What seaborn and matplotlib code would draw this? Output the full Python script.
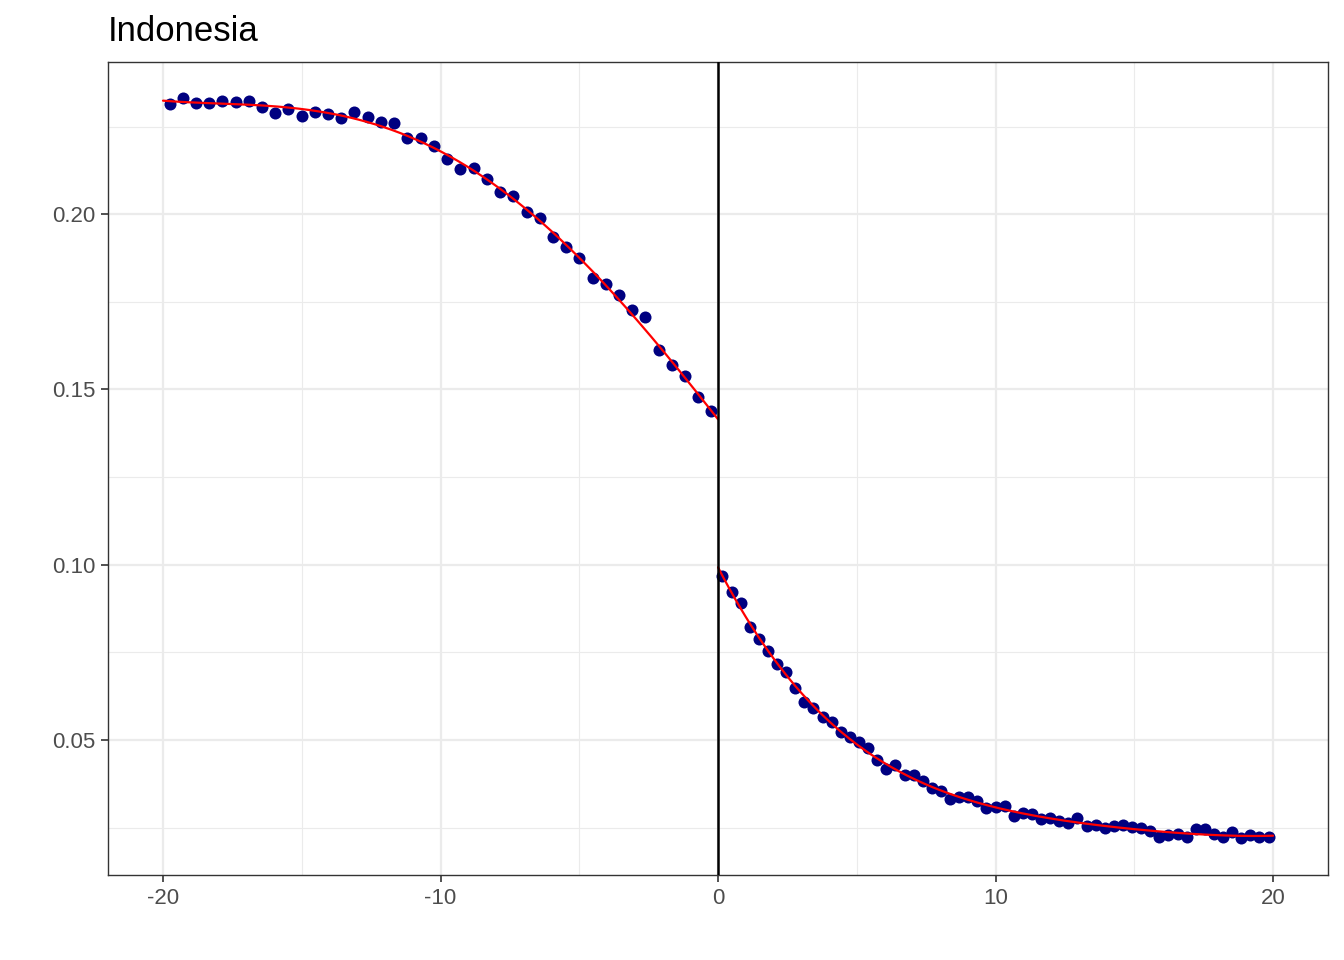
import numpy as np
import pandas as pd
import matplotlib
matplotlib.use("Agg")
import matplotlib.pyplot as plt
import seaborn as sns
from matplotlib.ticker import MultipleLocator

# binned means, left of the cutoff
x_left = [-19.76, -19.29, -18.81, -18.33, -17.86, -17.38, -16.90, -16.43, -15.95, -15.48,
          -15.00, -14.52, -14.05, -13.57, -13.10, -12.62, -12.14, -11.67, -11.19, -10.71,
          -10.24, -9.76, -9.29, -8.81, -8.33, -7.86, -7.38, -6.90, -6.43, -5.95,
          -5.48, -5.00, -4.52, -4.05, -3.57, -3.10, -2.62, -2.14, -1.67, -1.19,
          -0.71, -0.24]
y_left = [0.2314, 0.2331, 0.2317, 0.2317, 0.2322, 0.2319, 0.2322, 0.2305, 0.2288, 0.2299,
          0.2280, 0.2291, 0.2285, 0.2274, 0.2291, 0.2277, 0.2262, 0.2260, 0.2217, 0.2217,
          0.2194, 0.2157, 0.2128, 0.2131, 0.2100, 0.2063, 0.2051, 0.2006, 0.1989, 0.1934,
          0.1906, 0.1875, 0.1817, 0.1800, 0.1769, 0.1726, 0.1706, 0.1612, 0.1569, 0.1538,
          0.1478, 0.1438]

# binned means, right of the cutoff
x_right = [0.16, 0.49, 0.82, 1.15, 1.48, 1.80, 2.13, 2.46, 2.79, 3.11,
           3.44, 3.77, 4.10, 4.43, 4.75, 5.08, 5.41, 5.74, 6.07, 6.39,
           6.72, 7.05, 7.38, 7.70, 8.03, 8.36, 8.69, 9.02, 9.34, 9.67,
           10.00, 10.33, 10.66, 10.98, 11.31, 11.64, 11.97, 12.30, 12.62, 12.95,
           13.28, 13.61, 13.93, 14.26, 14.59, 14.92, 15.25, 15.57, 15.90, 16.23,
           16.56, 16.89, 17.21, 17.54, 17.87, 18.20, 18.52, 18.85, 19.18, 19.51,
           19.84]
y_right = [0.0968, 0.0922, 0.0891, 0.0822, 0.0788, 0.0754, 0.0717, 0.0694, 0.0648, 0.0608,
           0.0591, 0.0566, 0.0551, 0.0523, 0.0509, 0.0494, 0.0477, 0.0443, 0.0417, 0.0429,
           0.0400, 0.0400, 0.0383, 0.0363, 0.0355, 0.0332, 0.0337, 0.0337, 0.0326, 0.0306,
           0.0309, 0.0312, 0.0283, 0.0292, 0.0289, 0.0275, 0.0278, 0.0269, 0.0263, 0.0278,
           0.0255, 0.0258, 0.0249, 0.0255, 0.0258, 0.0252, 0.0249, 0.0240, 0.0223, 0.0229,
           0.0232, 0.0223, 0.0246, 0.0246, 0.0232, 0.0223, 0.0238, 0.0220, 0.0229, 0.0223,
           0.0223]

title = "Indonesia"

sns.set_theme(style="white")
plt.rcParams["font.family"] = ["Liberation Sans", "DejaVu Sans"]

bins = pd.DataFrame({"x": x_left + x_right, "y": y_left + y_right})

# 4th order polynomial fit on each side
fits = []
for xs, ys, lo, hi in [(x_left, y_left, -20, 0), (x_right, y_right, 0, 20)]:
    coef = np.polyfit(xs, ys, 4)
    grid = np.linspace(lo, hi, 200)
    fits.append(pd.DataFrame({"x": grid, "y": np.polyval(coef, grid), "side": f"{lo}"}))
fit_df = pd.concat(fits)

fig = plt.figure(figsize=(13.44, 9.6), dpi=100)
ax = fig.add_axes([0.0804, 0.0885, 0.9077, 0.8469])

ax.xaxis.set_major_locator(MultipleLocator(10))
ax.xaxis.set_minor_locator(MultipleLocator(5))
ax.yaxis.set_major_locator(MultipleLocator(0.05))
ax.yaxis.set_minor_locator(MultipleLocator(0.025))
ax.grid(which="major", color="#EBEBEB", linewidth=1.6)
ax.grid(which="minor", color="#EBEBEB", linewidth=0.8)
ax.set_axisbelow(True)

sns.scatterplot(data=bins, x="x", y="y", color="#000080", s=75, linewidth=0, ax=ax, zorder=3)
sns.lineplot(data=fit_df, x="x", y="y", units="side", estimator=None, color="red",
             linewidth=1.6, ax=ax, zorder=4)
ax.axvline(0, color="black", linewidth=1.8, zorder=5)

ax.set_xlim(-21.98, 21.98)
ax.set_ylim(0.0115, 0.2434)
ax.set_xticks([-20, -10, 0, 10, 20])
ax.set_xticklabels(["-20", "-10", "0", "10", "20"])
ax.set_yticks([0.05, 0.10, 0.15, 0.20])
ax.set_yticklabels(["0.05", "0.10", "0.15", "0.20"])
ax.set_xlabel("")
ax.set_ylabel("")
ax.tick_params(axis="both", which="major", length=5, width=1.2, color="#333333",
               labelcolor="#4D4D4D", labelsize=16, pad=4, bottom=True, left=True)
ax.tick_params(which="minor", length=0)
for sp in ax.spines.values():
    sp.set_color("#333333")
    sp.set_linewidth(1.0)

ax.set_title(title, loc="left", fontsize=25, color="black", pad=15)

fig.savefig("out.png", dpi=100)
